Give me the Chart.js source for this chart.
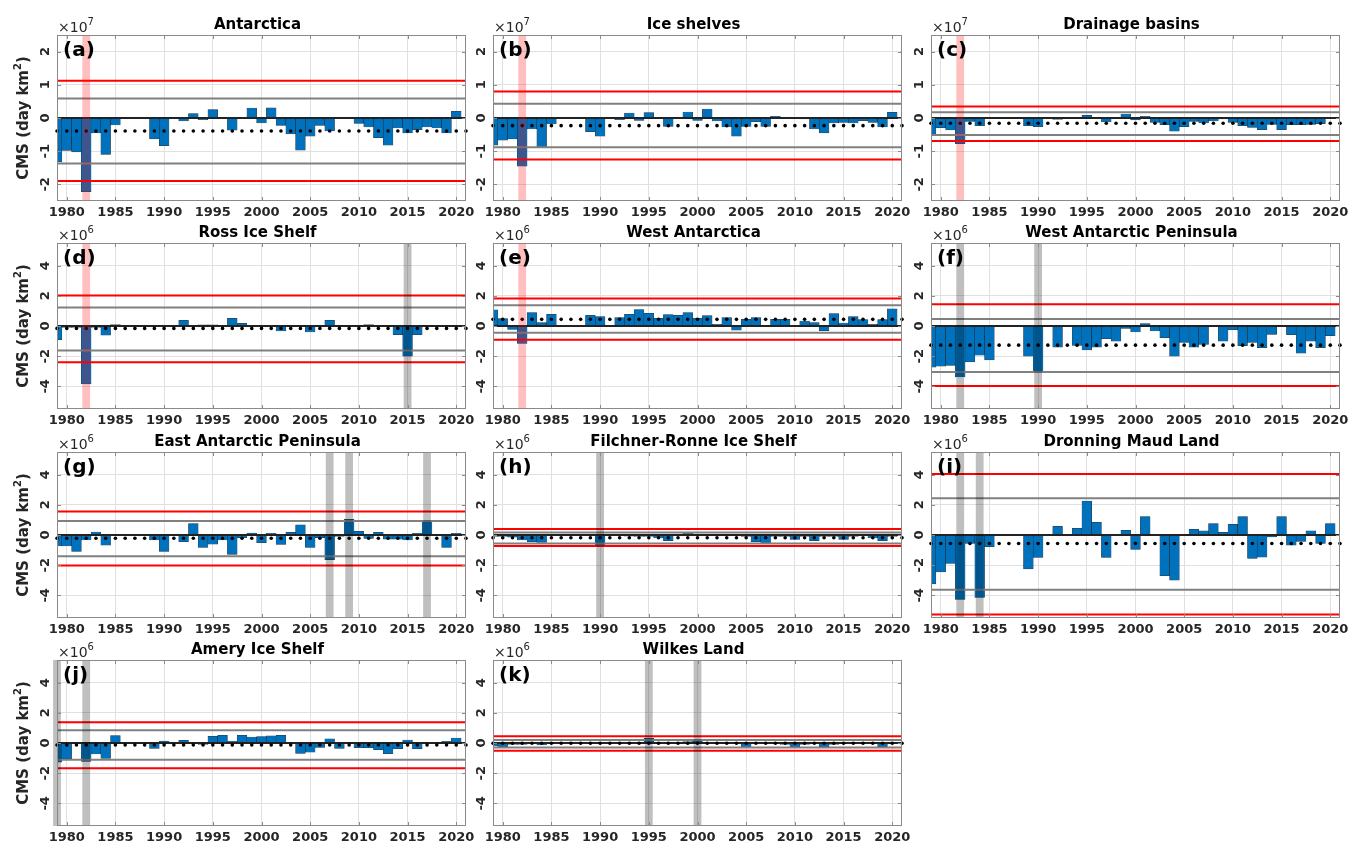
<!DOCTYPE html>
<html>
<head>
<meta charset="utf-8">
<script src="https://cdn.jsdelivr.net/npm/chart.js@4.4.0/dist/chart.umd.min.js"></script>
<style>
  body { margin: 0; background: #fff; }
  #wrap { position: relative; width: 1349px; height: 847px; overflow: hidden; background: #fff; }
  #wrap canvas { position: absolute; }
</style>
</head>
<body>
<div id="wrap"></div>
<script>
// years 1979..2020 (null = no data)
const years = [1979, 1980, 1981, 1982, 1983, 1984, 1985, 1986, 1987, 1988, 1989, 1990, 1991, 1992,
    1993, 1994, 1995, 1996, 1997, 1998, 1999, 2000, 2001, 2002, 2003, 2004, 2005, 2006,
    2007, 2008, 2009, 2010, 2011, 2012, 2013, 2014, 2015, 2016, 2017, 2018, 2019, 2020];
const xTicks = [1980, 1985, 1990, 1995, 2000, 2005, 2010, 2015, 2020];
const yTicks7 = [-2, -1, 0, 1, 2];
const yTicks6 = [-4, -2, 0, 2, 4];

// CMS anomalies, in units of 10^7 (row 1) or 10^6 (other rows)
const antarctica = [-1.32, -0.98, -1.02, -2.22, -0.45, -1.10, -0.21, null, null, null, -0.63, -0.83, null, -0.09,
    0.13, -0.05, 0.25, 0.01, -0.37, 0.01, 0.30, -0.15, 0.31, -0.22, -0.48, -0.97, -0.55, -0.22,
    -0.39, 0.00, 0.00, -0.16, -0.27, -0.59, -0.82, -0.30, -0.45, -0.35, -0.27, -0.30, -0.45, 0.20];
const iceShelves = [-0.82, -0.67, -0.63, -1.45, -0.33, -0.88, -0.18, null, null, null, -0.41, -0.55, null, -0.05,
    0.15, -0.07, 0.16, 0.00, -0.25, 0.00, 0.18, -0.07, 0.27, -0.09, -0.27, -0.55, -0.25, -0.11,
    -0.25, 0.05, 0.02, 0.00, -0.03, -0.33, -0.45, -0.15, -0.13, -0.15, -0.08, -0.13, -0.27, 0.17];
const drainage = [-0.50, -0.29, -0.36, -0.77, -0.10, -0.23, -0.01, null, null, null, -0.23, -0.26, null, -0.04,
    -0.02, -0.01, 0.08, -0.01, -0.12, 0.00, 0.12, -0.06, 0.05, -0.13, -0.20, -0.40, -0.26, -0.10,
    -0.15, -0.09, -0.03, -0.13, -0.23, -0.28, -0.35, -0.19, -0.35, -0.20, -0.20, -0.19, -0.17, -0.02];
const ross = [-0.91, -0.10, -0.10, -3.84, -0.10, -0.60, 0.09, null, null, null, 0.02, 0.02, null, 0.38,
    -0.05, 0.08, 0.08, 0.00, 0.51, 0.18, 0.02, -0.05, 0.02, -0.33, 0.04, -0.05, -0.40, 0.02,
    0.38, 0.02, 0.00, -0.05, 0.09, 0.00, 0.02, -0.58, -2.00, -0.58, 0.02, 0.04, 0.00, 0.02];
const westAnt = [1.07, 0.49, -0.22, -1.16, 0.89, 0.22, 0.78, null, null, null, 0.71, 0.62, null, 0.56,
    0.78, 1.09, 0.84, 0.51, 0.76, 0.71, 0.89, 0.51, 0.69, 0.11, 0.56, -0.27, 0.44, 0.56,
    0.02, 0.44, 0.44, 0.05, 0.33, 0.22, -0.31, 0.82, 0.20, 0.62, 0.42, 0.11, 0.42, 1.13];
const westPen = [-2.73, -2.67, -2.62, -3.38, -2.38, -1.93, -2.24, null, null, null, -2.00, -3.04, null, -1.40,
    0.00, -1.29, -1.58, -1.40, -0.84, -1.00, -0.16, -0.40, 0.16, -0.33, -0.78, -2.00, -1.09, -1.40,
    -1.22, 0.04, -1.00, -0.24, -1.31, -1.09, -1.44, -0.56, 0.00, -0.58, -1.80, -1.00, -1.44, -0.64];
const eastPen = [-0.73, -0.73, -1.09, -0.33, 0.20, -0.67, -0.05, null, null, null, -0.33, -1.09, null, -0.44,
    0.76, -0.82, -0.60, -0.33, -1.29, -0.18, 0.13, -0.51, 0.11, -0.62, 0.18, 0.67, -0.82, -0.18,
    -1.64, -0.10, 1.04, 0.24, -0.22, 0.18, -0.27, -0.27, -0.33, 0.11, 0.93, 0.00, -0.82, 0.11];
const filchner = [-0.10, -0.10, -0.15, -0.33, -0.44, -0.49, -0.05, null, null, null, -0.05, -0.78, null, -0.05,
    -0.08, -0.10, -0.10, -0.20, -0.38, -0.05, 0.11, -0.05, -0.05, -0.05, -0.05, -0.05, -0.10, -0.44,
    -0.56, -0.10, -0.10, -0.29, -0.10, -0.38, -0.10, -0.10, -0.30, -0.10, -0.05, -0.20, -0.38, -0.10];
const dronning = [-3.24, -2.44, -1.89, -4.27, -0.56, -4.13, -0.78, null, null, null, -2.24, -1.49, null, 0.58,
    0.02, 0.44, 2.24, 0.84, -1.49, 0.00, 0.31, -0.96, 1.22, 0.00, -2.69, -3.00, 0.04, 0.38,
    0.27, 0.76, 0.18, 0.71, 1.22, -1.56, -1.47, -0.13, 1.22, -0.67, -0.42, 0.27, -0.56, 0.76];
const amery = [-1.27, -1.04, -0.05, -1.22, -0.73, -1.02, 0.49, null, null, null, -0.36, 0.13, null, 0.18,
    -0.03, -0.10, 0.44, 0.51, 0.11, 0.51, 0.40, 0.42, 0.47, 0.51, -0.05, -0.69, -0.60, -0.29,
    0.27, -0.36, -0.03, -0.31, -0.31, -0.44, -0.71, -0.38, 0.20, -0.38, 0.04, -0.05, 0.11, 0.33];
const wilkes = [-0.20, -0.24, -0.10, -0.10, 0.02, -0.12, 0.02, null, null, null, 0.05, 0.02, null, -0.05,
    0.02, 0.05, 0.31, 0.02, 0.02, 0.02, 0.10, 0.24, -0.05, 0.02, 0.02, 0.02, -0.29, 0.02,
    0.02, 0.02, -0.10, -0.24, -0.10, -0.05, -0.24, -0.10, 0.02, 0.02, 0.02, -0.05, -0.24, 0.02];

// reference levels: [mean, mean - 1 sd, mean + 1 sd, lower red, upper red]
const antarcticaLevels = [-0.39, -1.37, 0.59, -1.90, 1.12];
const iceShelvesLevels = [-0.23, -0.88, 0.43, -1.25, 0.80];
const drainageLevels = [-0.16, -0.51, 0.17, -0.69, 0.35];
const rossLevels = [-0.16, -1.62, 1.22, -2.40, 2.02];
const westAntLevels = [0.44, -0.44, 1.38, -0.91, 1.82];
const westPenLevels = [-1.27, -3.04, 0.47, -3.98, 1.44];
const eastPenLevels = [-0.22, -1.40, 0.93, -2.02, 1.56];
const filchnerLevels = [-0.18, -0.56, 0.16, -0.73, 0.40];
const dronningLevels = [-0.56, -3.62, 2.44, -5.27, 4.04];
const ameryLevels = [-0.13, -1.11, 0.84, -1.67, 1.38];
const wilkesLevels = [-0.02, -0.29, 0.20, -0.51, 0.44];

const panels = [
    { tag: '(a)', title: 'Antarctica', vals: antarctica, lv: antarcticaLevels, exp: 7, lim: 2.5, yt: yTicks7, red: [1982], gray: [] },
    { tag: '(b)', title: 'Ice shelves', vals: iceShelves, lv: iceShelvesLevels, exp: 7, lim: 2.5, yt: yTicks7, red: [1982], gray: [] },
    { tag: '(c)', title: 'Drainage basins', vals: drainage, lv: drainageLevels, exp: 7, lim: 2.5, yt: yTicks7, red: [1982], gray: [] },
    { tag: '(d)', title: 'Ross Ice Shelf', vals: ross, lv: rossLevels, exp: 6, lim: 5.5, yt: yTicks6, red: [1982], gray: [2015] },
    { tag: '(e)', title: 'West Antarctica', vals: westAnt, lv: westAntLevels, exp: 6, lim: 5.5, yt: yTicks6, red: [1982], gray: [] },
    { tag: '(f)', title: 'West Antarctic Peninsula', vals: westPen, lv: westPenLevels, exp: 6, lim: 5.5, yt: yTicks6, red: [], gray: [1982, 1990] },
    { tag: '(g)', title: 'East Antarctic Peninsula', vals: eastPen, lv: eastPenLevels, exp: 6, lim: 5.5, yt: yTicks6, red: [], gray: [2007, 2009, 2017] },
    { tag: '(h)', title: 'Filchner-Ronne Ice Shelf', vals: filchner, lv: filchnerLevels, exp: 6, lim: 5.5, yt: yTicks6, red: [], gray: [1990] },
    { tag: '(i)', title: 'Dronning Maud Land', vals: dronning, lv: dronningLevels, exp: 6, lim: 5.5, yt: yTicks6, red: [], gray: [1982, 1984] },
    { tag: '(j)', title: 'Amery Ice Shelf', vals: amery, lv: ameryLevels, exp: 6, lim: 5.5, yt: yTicks6, red: [], gray: [1979, 1982] },
    { tag: '(k)', title: 'Wilkes Land', vals: wilkes, lv: wilkesLevels, exp: 6, lim: 5.5, yt: yTicks6, red: [], gray: [1995, 2000] }
];

// page layout of the axes boxes
const colLeft = [57, 493, 931];
const rowTop = [35, 243, 452, 660];
const axW = 409, axH = 166;
const padL = 60, padT = 40, padR = 25, padB = 32;
const FONT = "'DejaVu Sans', sans-serif";

Chart.defaults.font.family = FONT;

const decor = {
    id: 'decor',
    afterDraw(chart, args, o) {
        const ctx = chart.ctx;
        const a = chart.chartArea;
        const xs = chart.scales.x, ys = chart.scales.y;
        ctx.save();

        // box and inward ticks
        ctx.strokeStyle = '#8a8a8a';
        ctx.lineWidth = 1;
        ctx.strokeRect(a.left + 0.5, a.top + 0.5, a.right - a.left - 1, a.bottom - a.top - 1);
        ctx.beginPath();
        xs.ticks.forEach(t => {
            const px = Math.round(xs.getPixelForValue(t.value)) + 0.5;
            ctx.moveTo(px, a.bottom); ctx.lineTo(px, a.bottom - 4);
            ctx.moveTo(px, a.top); ctx.lineTo(px, a.top + 4);
        });
        ys.ticks.forEach(t => {
            const py = Math.round(ys.getPixelForValue(t.value)) + 0.5;
            ctx.moveTo(a.left, py); ctx.lineTo(a.left + 4, py);
            ctx.moveTo(a.right, py); ctx.lineTo(a.right - 4, py);
        });
        ctx.stroke();

        ctx.fillStyle = '#262626';
        ctx.font = 'bold 13px ' + FONT;
        ctx.textAlign = 'center';
        ctx.textBaseline = 'middle';

        // x tick labels
        xs.ticks.forEach(t => {
            ctx.fillText(String(t.value), xs.getPixelForValue(t.value), a.bottom + 12);
        });

        // rotated y tick labels
        ys.ticks.forEach(t => {
            ctx.save();
            ctx.translate(a.left - 11, ys.getPixelForValue(t.value));
            ctx.rotate(-Math.PI / 2);
            ctx.fillText(String(t.value), 0, 0);
            ctx.restore();
        });

        // x10^n
        ctx.textAlign = 'left';
        ctx.textBaseline = 'alphabetic';
        ctx.font = '14px ' + FONT;
        ctx.fillText('\u00d710', a.left + 1, a.top - 3);
        const w = ctx.measureText('\u00d710').width;
        ctx.font = '10px ' + FONT;
        ctx.fillText(String(o.exp), a.left + 1 + w, a.top - 10);

        // title
        ctx.fillStyle = '#000';
        ctx.font = 'bold 15px ' + FONT;
        ctx.textAlign = 'center';
        ctx.fillText(o.title, (a.left + a.right) / 2 - 4, a.top - 6);

        // panel tag
        ctx.font = 'bold 20px ' + FONT;
        ctx.textAlign = 'left';
        ctx.fillText(o.tag, a.left + 6, a.top + 21);

        // y axis title
        if (o.yTitle) {
            ctx.fillStyle = '#262626';
            ctx.save();
            ctx.translate(a.left - 33, (a.top + a.bottom) / 2);
            ctx.rotate(-Math.PI / 2);
            const parts = [['CMS (day km', 'bold 15px ' + FONT, 0], ['2', 'bold 10px ' + FONT, -6], [')', 'bold 15px ' + FONT, 0]];
            let total = 0;
            parts.forEach(p => { ctx.font = p[1]; total += ctx.measureText(p[0]).width; });
            let x = -total / 2;
            ctx.textBaseline = 'middle';
            parts.forEach(p => {
                ctx.font = p[1];
                ctx.fillText(p[0], x, p[2]);
                x += ctx.measureText(p[0]).width;
            });
            ctx.restore();
        }
        ctx.restore();
    }
};

const wrap = document.getElementById('wrap');

panels.forEach((p, i) => {
    const col = i % 3, row = Math.floor(i / 3);
    const cv = document.createElement('canvas');
    const W = axW + padL + padR, H = axH + padT + padB;
    cv.width = W; cv.height = H;
    cv.style.left = (colLeft[col] - padL) + 'px';
    cv.style.top = (rowTop[row] - padT) + 'px';
    cv.style.width = W + 'px'; cv.style.height = H + 'px';
    wrap.appendChild(cv);

    const [mean, sdLo, sdHi, redLo, redHi] = p.lv;
    const hline = (v, color, width, order) => ({
        type: 'line',
        data: [{ x: 1979, y: v }, { x: 2021, y: v }],
        borderColor: color, borderWidth: width,
        pointRadius: 0, order: order
    });
    const band = (list, color) => ({
        type: 'bar',
        data: list.map(yr => ({ x: yr, y: [-p.lim, p.lim] })),
        backgroundColor: color, borderWidth: 0,
        grouped: false, barPercentage: 0.8, categoryPercentage: 1,
        clip: false, order: 0
    });

    new Chart(cv, {
        type: 'bar',
        data: {
            datasets: [
                band(p.red, 'rgba(255,0,0,0.25)'),
                band(p.gray, 'rgba(0,0,0,0.25)'),
                {
                    type: 'line',
                    data: years.concat([2021]).map(yr => ({ x: yr, y: mean })),
                    showLine: false, pointRadius: 1.8,
                    pointBackgroundColor: '#000', pointBorderWidth: 0,
                    clip: false, order: 1
                },
                hline(0, '#222', 2, 2),
                hline(sdLo, '#808080', 2, 3),
                hline(sdHi, '#808080', 2, 3),
                hline(redLo, '#ff0000', 2, 4),
                hline(redHi, '#ff0000', 2, 4),
                {
                    type: 'bar',
                    data: years.map((yr, k) => ({ x: yr, y: p.vals[k] })),
                    backgroundColor: '#0072BD',
                    borderColor: 'rgba(0,0,0,0.8)', borderWidth: 0.5, borderSkipped: false,
                    grouped: false, barPercentage: 1, categoryPercentage: 1,
                    clip: 0, order: 5
                }
            ]
        },
        options: {
            responsive: false,
            devicePixelRatio: 1,
            animation: false,
            events: [],
            layout: { padding: { left: padL, top: padT, right: padR, bottom: padB } },
            plugins: {
                legend: { display: false },
                tooltip: { enabled: false },
                decor: { title: p.title, tag: p.tag, exp: p.exp, yTitle: col === 0 }
            },
            scales: {
                x: {
                    type: 'linear', min: 1979, max: 2021, offset: false,
                    afterBuildTicks: s => { s.ticks = xTicks.map(v => ({ value: v })); },
                    afterFit: s => { s.height = 0; },
                    grid: { color: '#e0e0e0', drawTicks: false, offset: false },
                    border: { display: false },
                    ticks: { display: false }
                },
                y: {
                    min: -p.lim, max: p.lim,
                    afterBuildTicks: s => { s.ticks = p.yt.map(v => ({ value: v })); },
                    afterFit: s => { s.width = 0; },
                    grid: { color: '#e0e0e0', drawTicks: false },
                    border: { display: false },
                    ticks: { display: false }
                }
            }
        },
        plugins: [decor]
    });
});
</script>
</body>
</html>
